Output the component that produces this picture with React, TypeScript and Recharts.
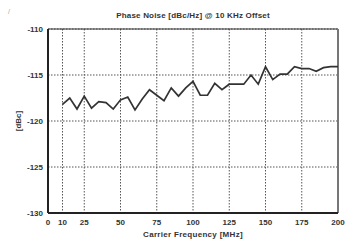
import React from 'react';
import { LineChart, Line, XAxis, YAxis, CartesianGrid, ReferenceLine, Label } from 'recharts';

const frequencies = [10,15,20,25,30,35,40,45,50,55,60,65,70,75,80,85,90,95,100,105,110,115,120,125,130,135,140,145,150,155,160,165,170,175,180,185,190,195,200];
const phaseNoise = [-118.2,-117.5,-118.7,-117.3,-118.6,-117.9,-118.0,-118.7,-117.7,-117.4,-118.8,-117.6,-116.6,-117.2,-117.8,-116.4,-117.3,-116.4,-115.7,-117.2,-117.2,-115.9,-116.6,-116.0,-116.0,-116.0,-115.0,-116.0,-114.1,-115.5,-114.9,-114.9,-114.1,-114.3,-114.3,-114.6,-114.2,-114.1,-114.1];
const xTicks = [0,10,25,50,75,100,125,150,175,200];
const yTicks = [-130,-125,-120,-115,-110];
const title = 'Phase Noise [dBc/Hz] @ 10 KHz Offset';
const xLabel = 'Carrier Frequency [MHz]';
const yLabel = '[dBc]';

const data = frequencies.map((f, i) => ({ f, v: phaseNoise[i] }));

const font = '"Liberation Sans", Arial, sans-serif';
const tickStyle = { fontSize: 8, fontWeight: 700, fill: '#333', fontFamily: font };

export default function App() {
  return (
    <div style={{ position: 'absolute', left: 0, top: 0, width: 353, height: 240, background: '#fff' }}>
      <div style={{ position: 'absolute', left: 8, top: 8, fontSize: 7, color: '#aaa', fontFamily: font }}>/</div>
      <div style={{ position: 'absolute', left: 0, top: 11, width: 386, textAlign: 'center', fontSize: 8, fontWeight: 700, color: '#333', fontFamily: font, letterSpacing: 0.2 }}>{title}</div>
      <LineChart width={353} height={240} data={data} margin={{ top: 29, right: 15, bottom: 5, left: 0 }}>
        <CartesianGrid stroke="#555" strokeDasharray="1.5 1.5" />
        <XAxis
          dataKey="f"
          type="number"
          domain={[0, 200]}
          ticks={xTicks}
          interval={0}
          height={22}
          tickLine={false}
          tickSize={4}
          tickMargin={2}
          axisLine={{ stroke: '#222', strokeWidth: 2 }}
          tick={tickStyle}
        >
          <Label value={xLabel} position="insideBottom" offset={-2} style={{ fontSize: 8, fontWeight: 700, fill: '#333', fontFamily: font, letterSpacing: 0.3 }} />
        </XAxis>
        <YAxis
          type="number"
          domain={[-130, -110]}
          ticks={yTicks}
          interval={0}
          width={48}
          tickLine={false}
          tickSize={3}
          tickMargin={2}
          axisLine={{ stroke: '#222', strokeWidth: 2 }}
          tick={tickStyle}
        >
          <Label value={yLabel} angle={-90} position="insideLeft" offset={18} style={{ fontSize: 8, fontWeight: 700, fill: '#333', fontFamily: font, textAnchor: 'middle' }} />
        </YAxis>
        <ReferenceLine y={-110} stroke="#333" strokeWidth={1} />
        <ReferenceLine x={200} stroke="#777" strokeWidth={2} />
        <Line type="linear" dataKey="v" stroke="#333" strokeWidth={1.7} dot={false} isAnimationActive={false} />
      </LineChart>
    </div>
  );
}
